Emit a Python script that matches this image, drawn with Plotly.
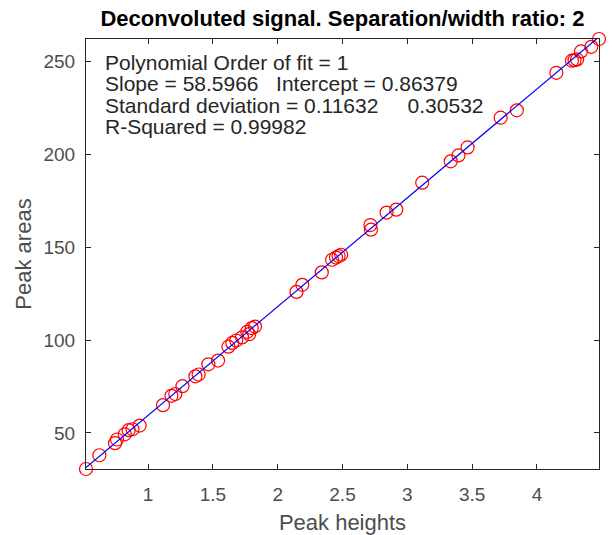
import plotly.graph_objects as go

peak_heights = [0.521, 0.624, 0.745, 0.76, 0.82, 0.85, 0.88, 0.935, 1.115, 1.18, 1.21, 1.265,
                1.365, 1.39, 1.465, 1.54, 1.62, 1.65, 1.68, 1.725, 1.765, 1.78, 1.80, 1.825,
                2.145, 2.19, 2.34, 2.42, 2.45, 2.47, 2.49, 2.715, 2.72, 2.84, 2.915, 3.115,
                3.335, 3.395, 3.465, 3.72, 3.845, 4.15, 4.27, 4.29, 4.31, 4.34, 4.42, 4.479]
peak_areas = [30.6, 38.0, 44.5, 46.5, 49.3, 51.5, 52.0, 54.0, 65.0, 70.0, 71.0, 75.2,
              80.5, 81.5, 87.0, 89.0, 96.5, 98.5, 99.8, 101.5, 104.5, 103.2, 106.5, 107.3,
              126.0, 129.8, 136.5, 143.3, 144.5, 145.3, 146.0, 162.0, 159.5, 168.7, 170.3, 184.8,
              196.3, 199.5, 203.8, 219.8, 223.8, 244.0, 250.5, 250.8, 251.2, 255.5, 258.0, 262.2]

slope = 58.5966
intercept = 0.86379
fit_x = [min(peak_heights), max(peak_heights)]
fit_y = [slope * v + intercept for v in fit_x]

info_lines = [
    "Polynomial Order of fit = 1",
    "Slope = 58.5966\u00a0\u00a0\u00a0Intercept = 0.86379",
    "Standard deviation = 0.11632\u00a0\u00a0\u00a0\u00a0\u00a00.30532",
    "R-Squared = 0.99982",
]

x_ticks = [1, 1.5, 2, 2.5, 3, 3.5, 4]
y_ticks = [50, 100, 150, 200, 250]

FONT = "Liberation Sans, Arial, Helvetica"
L, R, T, B = 86, 599, 39, 469
W, H = 613, 535

fig = go.Figure()
fig.add_trace(go.Scatter(x=peak_heights, y=peak_areas, mode="markers",
                         marker=dict(symbol="circle-open", size=13, color="#ff0000",
                                     line=dict(width=1.2, color="#ff0000")),
                         cliponaxis=False, showlegend=False))
fig.add_trace(go.Scatter(x=fit_x, y=fit_y, mode="lines",
                         line=dict(color="#0000ff", width=1.2), showlegend=False))

axis_common = dict(showgrid=False, zeroline=False, showline=True, linecolor="#262626",
                   linewidth=1, mirror="ticks", ticks="inside", ticklen=5, tickcolor="#262626",
                   automargin=False,
                   tickfont=dict(family=FONT, size=19, color="#4d4d4d"))

fig.update_xaxes(range=[0.521, 4.479], tickvals=x_ticks, ticktext=[str(t) for t in x_ticks],
                 ticklabelstandoff=8,
                 title=dict(text="Peak heights", font=dict(family=FONT, size=22, color="#4d4d4d"),
                            standoff=11),
                 **axis_common)
fig.update_yaxes(range=[30.6, 262.2], tickvals=y_ticks, ticktext=[str(t) for t in y_ticks],
                 ticklabelstandoff=6,
                 title=dict(text="Peak areas", font=dict(family=FONT, size=22, color="#4d4d4d"),
                            standoff=5),
                 **axis_common)

for i, line in enumerate(info_lines):
    yc = 62 + i * 21.5
    fig.add_annotation(xref="paper", yref="paper", x=(103 - L) / (R - L), y=(B - yc) / (B - T),
                       xanchor="left", yanchor="middle", showarrow=False, text=line,
                       font=dict(family=FONT, size=21, color="#262626"))

fig.update_layout(
    width=W, height=H,
    margin=dict(l=L, r=W - R, t=T, b=H - B, autoexpand=False),
    paper_bgcolor="white", plot_bgcolor="white",
    title=dict(text="<b>Deconvoluted signal. Separation/width ratio: 2</b>",
               x=(L + R) / 2 / W, xanchor="center", y=1 - 18 / H, yanchor="middle",
               font=dict(family=FONT, size=22, color="#000000")),
)

fig.write_html("out.html")
